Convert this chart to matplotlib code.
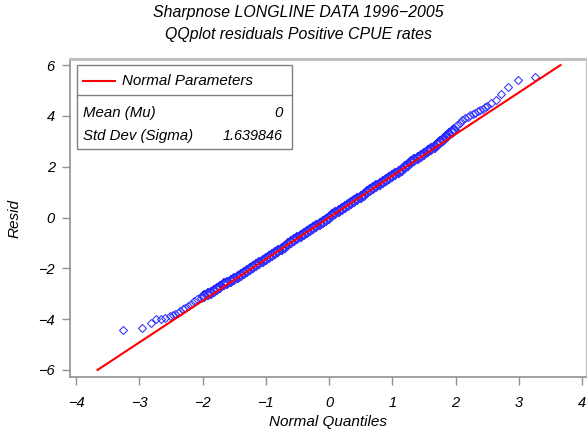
import matplotlib
matplotlib.use("Agg")
import matplotlib.pyplot as plt
from matplotlib.patches import Rectangle
from matplotlib.lines import Line2D

plt.rcParams['font.family'] = ['Liberation Sans', 'DejaVu Sans']
plt.rcParams['font.style'] = 'italic'

# ---- data ----
MU = 0.0
SIGMA = 1.639846

# lower tail
q_low = [-3.25, -2.96, -2.81, -2.73, -2.66, -2.59, -2.52, -2.47, -2.43, -2.39,
         -2.35, -2.31, -2.27, -2.23, -2.18, -2.13, -2.08, -2.02, -1.97, -1.92,
         -1.87, -1.82, -1.77, -1.72, -1.66, -1.61, -1.55, -1.50, -1.44, -1.39,
         -1.34, -1.29]
r_low = [-4.44, -4.34, -4.15, -4.01, -3.99, -3.95, -3.88, -3.82, -3.79, -3.75,
         -3.69, -3.62, -3.55, -3.49, -3.40, -3.29, -3.22, -3.16, -3.08, -3.02,
         -2.96, -2.88, -2.80, -2.72, -2.63, -2.56, -2.48, -2.42, -2.36, -2.27,
         -2.19, -2.11]

# dense middle band
q_mid = [-1.25, -1.20, -1.15, -1.10, -1.05, -1.00, -0.95, -0.90, -0.85, -0.80,
         -0.75, -0.70, -0.65, -0.60, -0.55, -0.50, -0.45, -0.40, -0.35, -0.30,
         -0.25, -0.20, -0.15, -0.10, -0.05, 0.00, 0.05, 0.10, 0.15, 0.20,
         0.25, 0.30, 0.35, 0.40, 0.45, 0.50, 0.55, 0.60, 0.65, 0.70,
         0.75, 0.80, 0.85, 0.90, 0.95, 1.00, 1.05, 1.10, 1.15, 1.20, 1.25]
r_mid = [-2.03, -1.95, -1.86, -1.78, -1.71, -1.62, -1.55, -1.47, -1.40, -1.32,
         -1.24, -1.15, -1.06, -0.97, -0.89, -0.81, -0.74, -0.66, -0.58, -0.49,
         -0.40, -0.32, -0.25, -0.17, -0.09, -0.01, 0.08, 0.17, 0.25, 0.34,
         0.42, 0.50, 0.57, 0.65, 0.73, 0.81, 0.90, 0.99, 1.08, 1.16,
         1.24, 1.31, 1.38, 1.46, 1.55, 1.64, 1.73, 1.81, 1.89, 1.97, 2.06]

# upper tail
q_high = [1.30, 1.35, 1.40, 1.45, 1.50, 1.56, 1.61, 1.67, 1.72, 1.76,
          1.80, 1.85, 1.90, 1.94, 1.98, 2.03, 2.07, 2.11, 2.15, 2.19,
          2.23, 2.27, 2.31, 2.35, 2.39, 2.43, 2.47, 2.50, 2.56, 2.64,
          2.72, 2.83, 2.98, 3.26]
r_high = [2.19, 2.26, 2.34, 2.42, 2.50, 2.60, 2.69, 2.78, 2.88, 2.96,
          3.05, 3.16, 3.27, 3.36, 3.45, 3.64, 3.74, 3.84, 3.90, 3.97,
          4.02, 4.07, 4.13, 4.20, 4.24, 4.28, 4.35, 4.41, 4.50, 4.63,
          4.87, 5.12, 5.40, 5.52]

quantiles = q_low + q_mid + q_high
resid = r_low + r_mid + r_high

# reference line end points (quantile range where line stays in +-6)
line_q = [-3.66, 3.66]

x_ticks = [-4, -3, -2, -1, 0, 1, 2, 3, 4]
y_ticks = [-6, -4, -2, 0, 2, 4, 6]

# ---- figure ----
fig = plt.figure(figsize=(5.87, 4.34), dpi=100)
ax = fig.add_axes([0.1193, 0.1313, 0.879, 0.7327])

# points in the crowded part of the band drawn heavier
dense = [(q, r) for q, r in zip(quantiles, resid) if abs(q) < 2.0]
ax.plot([d[0] for d in dense], [d[1] for d in dense], linestyle='none',
        marker='D', markersize=4.6, markerfacecolor='none',
        markeredgecolor='#2020ff', markeredgewidth=1.4)
ax.plot(quantiles, resid, linestyle='none', marker='D', markersize=3.6,
        markerfacecolor='none', markeredgecolor='#3a3aff', markeredgewidth=0.8)
ax.plot(line_q, [MU + SIGMA * q for q in line_q], color='red', lw=1.5)

ax.set_xlim(-4.095, 4.063)
ax.set_ylim(-6.28, 6.24)
ax.set_xticks(x_ticks)
ax.set_yticks(y_ticks)
ax.tick_params(direction='out', length=6, width=1, color='#909090',
               labelsize=10.5)
ax.tick_params(axis='x', pad=8)
ax.tick_params(axis='y', pad=5)

for side in ['left', 'bottom']:
    ax.spines[side].set_color('#909090')
    ax.spines[side].set_linewidth(1.2)
ax.spines['top'].set_color('#c0c0c0')
ax.spines['top'].set_linewidth(2.2)
ax.spines['right'].set_color('#c8c8c8')
ax.spines['right'].set_linewidth(1.0)

ax.set_xlabel('Normal Quantiles', fontsize=11, labelpad=3)
ax.set_ylabel('Resid', fontsize=11, labelpad=12)

# inset legend / parameter box
box = Rectangle((0.013, 0.717), 0.417, 0.264, transform=ax.transAxes,
                fill=False, edgecolor='#808080', lw=1.0, zorder=5)
ax.add_patch(box)
ax.add_line(Line2D([0.013, 0.430], [0.887, 0.887], transform=ax.transAxes,
                   color='#808080', lw=1.0, zorder=5))
ax.add_line(Line2D([0.0252, 0.0872], [0.932, 0.932], transform=ax.transAxes,
                   color='red', lw=1.5, zorder=5))
ax.text(0.1008, 0.932, 'Normal Parameters', transform=ax.transAxes,
        fontsize=10.9, va='center', ha='left')
ax.text(0.0252, 0.830, 'Mean (Mu)', transform=ax.transAxes,
        fontsize=10.8, va='center', ha='left')
ax.text(0.4128, 0.830, '%g' % MU, transform=ax.transAxes,
        fontsize=10.8, va='center', ha='right')
ax.text(0.0252, 0.758, 'Std Dev (Sigma)', transform=ax.transAxes,
        fontsize=10.8, va='center', ha='left')
ax.text(0.4128, 0.758, '%.6f' % SIGMA, transform=ax.transAxes,
        fontsize=10.4, va='center', ha='right')

fig.text(0.508, 0.971, 'Sharpnose LONGLINE DATA 1996\u22122005',
         fontsize=11.4, ha='center', va='center')
fig.text(0.508, 0.921, 'QQplot residuals Positive CPUE rates',
         fontsize=11.4, ha='center', va='center')

fig.savefig('out.png', dpi=100)
